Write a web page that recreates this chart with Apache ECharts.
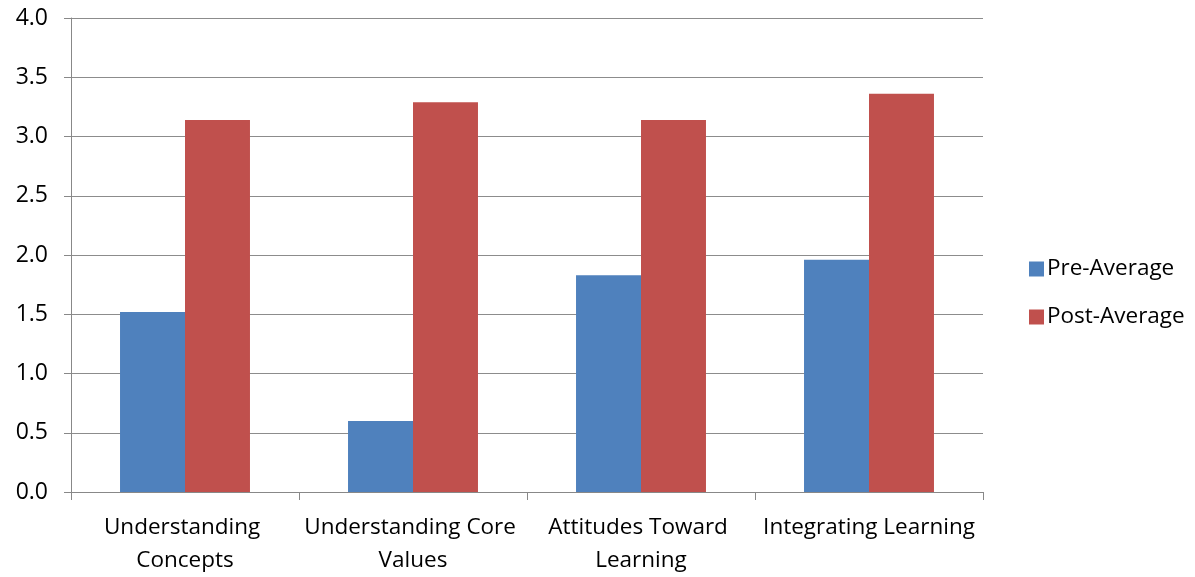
<!DOCTYPE html>
<html>
<head>
<meta charset="utf-8">
<script src="https://cdn.jsdelivr.net/npm/echarts@6/dist/echarts.min.js"></script>
<style>html,body{margin:0;padding:0;background:#fff;}#c{width:1195px;height:577px;}</style>
</head>
<body>
<div id="c"></div>
<script>
const categories = ["Understanding Concepts", "Understanding Core Values", "Attitudes Toward Learning", "Integrating Learning"];
const preAverage = [1.52, 0.60, 1.83, 1.96];
const postAverage = [3.14, 3.29, 3.14, 3.36];
const seriesNames = ["Pre-Average", "Post-Average"];

const FONT = "Open Sans";
const chart = echarts.init(document.getElementById('c'), null, {renderer: 'canvas'});
chart.setOption({
  animation: false,
  backgroundColor: '#ffffff',
  textStyle: {fontFamily: FONT, color: '#000'},
  grid: {left: 71, right: 212, top: 18, bottom: 85, containLabel: false},
  legend: {
    orient: 'vertical', left: 1024, top: 251, icon: 'rect',
    itemWidth: 15, itemHeight: 15, itemGap: 22,
    textStyle: {fontFamily: FONT, fontSize: 22.5, lineHeight: 26, color: '#000', padding: [0, 0, 0, -2]},
    data: seriesNames
  },
  xAxis: {
    type: 'category', data: categories,
    axisLine: {lineStyle: {color: '#888', width: 1}},
    axisTick: {show: true, length: 8, lineStyle: {color: '#888'}},
    axisLabel: {fontFamily: FONT, fontSize: 22.5, color: '#000', margin: 19, lineHeight: 33, width: 226, overflow: 'break', interval: 0}
  },
  yAxis: {
    type: 'value', min: 0, max: 4, interval: 0.5,
    axisLine: {show: true, lineStyle: {color: '#888'}},
    axisTick: {show: true, length: 7, lineStyle: {color: '#888'}},
    splitLine: {lineStyle: {color: '#8c8c8c', width: 1}},
    axisLabel: {fontFamily: FONT, fontSize: 23, color: '#000', margin: 23, formatter: v => v.toFixed(1)}
  },
  series: [
    {name: seriesNames[0], type: 'bar', data: preAverage, barGap: '0%', barCategoryGap: '43%', itemStyle: {color: '#4f81bd'}},
    {name: seriesNames[1], type: 'bar', data: postAverage, barGap: '0%', barCategoryGap: '43%', itemStyle: {color: '#c0504d'}}
  ]
});
</script>
</body>
</html>
